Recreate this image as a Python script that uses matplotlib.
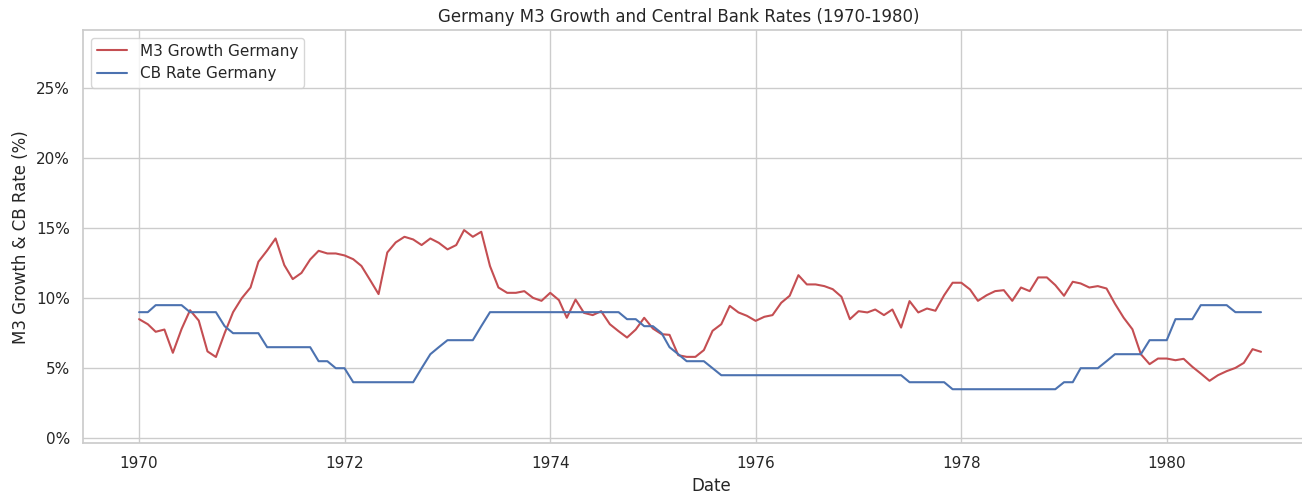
import matplotlib
matplotlib.use("Agg")
import matplotlib.pyplot as plt
import matplotlib.dates as mdates
import seaborn as sns
import pandas as pd

dates = pd.date_range("1970-01-01", "1980-12-01", freq="MS")

m3_growth = [
    8.5, 8.14, 7.6, 7.76, 6.1, 7.8, 9.14, 8.4, 6.2, 5.8, 7.5, 9.0,
    10.0, 10.76, 12.6, 13.4, 14.26, 12.36, 11.36, 11.8, 12.76, 13.38, 13.19, 13.19,
    13.05, 12.78, 12.3, 11.29, 10.29, 13.26, 13.98, 14.38, 14.19, 13.79, 14.26, 13.95,
    13.48, 13.79, 14.86, 14.38, 14.74, 12.29, 10.76, 10.38, 10.38, 10.5, 10.02, 9.81,
    10.38, 9.86, 8.6, 9.9, 8.95, 8.79, 9.07, 8.14, 7.64, 7.19, 7.76, 8.6,
    7.83, 7.43, 7.38, 5.93, 5.81, 5.81, 6.29, 7.67, 8.14, 9.45, 8.98, 8.74,
    8.38, 8.67, 8.79, 9.67, 10.17, 11.64, 10.98, 10.98, 10.86, 10.64, 10.1, 8.5,
    9.07, 8.98, 9.19, 8.79, 9.19, 7.9, 9.79, 8.98, 9.26, 9.1, 10.21, 11.1,
    11.1, 10.62, 9.81, 10.21, 10.5, 10.57, 9.81, 10.76, 10.5, 11.48, 11.48, 10.93,
    10.17, 11.17, 11.05, 10.76, 10.86, 10.69, 9.6, 8.6, 7.78, 6.0, 5.29, 5.69,
    5.69, 5.57, 5.67, 5.1, 4.62, 4.1, 4.5, 4.79, 5.02, 5.38, 6.36, 6.17,
]

cb_rate = [
    9, 9, 9.5, 9.5, 9.5, 9.5, 9, 9, 9, 9, 8, 7.5,
    7.5, 7.5, 7.5, 6.5, 6.5, 6.5, 6.5, 6.5, 6.5, 5.5, 5.5, 5,
    5, 4, 4, 4, 4, 4, 4, 4, 4, 5, 6, 6.5,
    7, 7, 7, 7, 8, 9, 9, 9, 9, 9, 9, 9,
    9, 9, 9, 9, 9, 9, 9, 9, 9, 8.5, 8.5, 8,
    8, 7.5, 6.5, 6, 5.5, 5.5, 5.5, 5, 4.5, 4.5, 4.5, 4.5,
    4.5, 4.5, 4.5, 4.5, 4.5, 4.5, 4.5, 4.5, 4.5, 4.5, 4.5, 4.5,
    4.5, 4.5, 4.5, 4.5, 4.5, 4.5, 4, 4, 4, 4, 4, 3.5,
    3.5, 3.5, 3.5, 3.5, 3.5, 3.5, 3.5, 3.5, 3.5, 3.5, 3.5, 3.5,
    4, 4, 5, 5, 5, 5.5, 6, 6, 6, 6, 7, 7,
    7, 8.5, 8.5, 8.5, 9.5, 9.5, 9.5, 9.5, 9, 9, 9, 9,
]

y_ticks = [0, 5, 10, 15, 20, 25]

sns.set_theme(style="whitegrid")
plt.rcParams['font.family'] = ['DejaVu Sans']

fig = plt.figure(figsize=(13.02, 4.93), dpi=100)
ax_left, ax_right = 83, 1340
ax = fig.add_axes([ax_left / 1302, 1 - 443.3 / 493,
                   (ax_right - ax_left) / 1302, (443.3 - 30) / 493])

ax.plot(dates, m3_growth, color="#C44E52", lw=1.5, label="M3 Growth Germany")
ax.plot(dates, cb_rate, color="#4C72B0", lw=1.5, label="CB Rate Germany")

# x-limits: default 5% margin on the left, axes continues past the right edge
x0 = mdates.date2num(dates[0])
x1 = mdates.date2num(dates[-1])
span = x1 - x0
px_per_day = (1261 - 139) / span
ax.set_xlim(x0 - 0.05 * span, x0 + (ax_right - 139) / px_per_day)

ax.set_ylim(-0.36, 29.14)
ax.set_yticks(y_ticks)
ax.set_yticklabels([f"{v}%" for v in y_ticks])
ax.xaxis.set_major_locator(mdates.YearLocator(2))
ax.xaxis.set_major_formatter(mdates.DateFormatter("%Y"))

ax.set_xlabel("Date")
ax.set_ylabel("M3 Growth & CB Rate (%)")
ax.set_title("Germany M3 Growth and Central Bank Rates (1970-1980)",
             x=(679 - ax_left) / (ax_right - ax_left))
ax.legend(loc="upper left")

fig.savefig("out.png", dpi=100)
